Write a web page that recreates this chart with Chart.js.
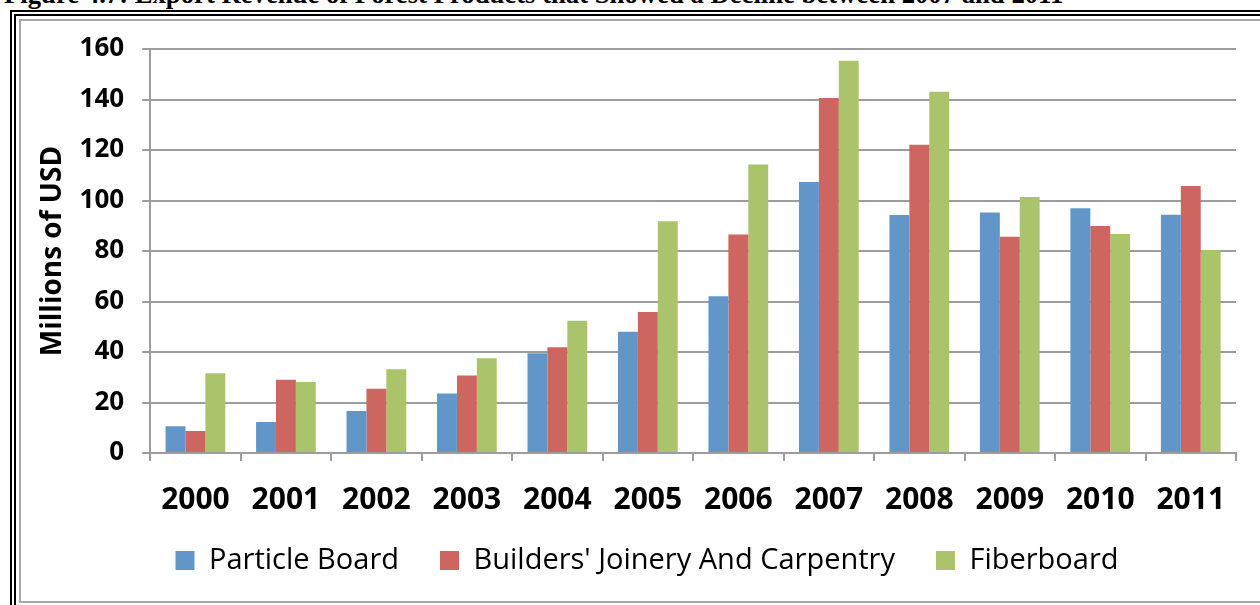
<!DOCTYPE html>
<html lang="en">
<head>
    <meta charset="UTF-8">
    <title>Export Revenue of Forest Products</title>
    <style>
        body {
            margin: 0;
            width: 1260px;
            height: 605px;
            overflow: hidden;
            background: #fff;
        }
        #caption {
            position: absolute;
            left: 4px;
            top: -18px;
            font: bold 26.7px 'Liberation Serif', 'Times New Roman', serif;
            line-height: 24px;
            white-space: nowrap;
            color: #000;
        }
        #frame {
            position: absolute;
            left: 10px;
            top: 10px;
            width: 1400px;
            height: 700px;
            border-top: 6px double #000;
            border-left: 6px double #000;
        }
        #box {
            position: absolute;
            left: 19px;
            top: 19px;
            width: 1400px;
            height: 580px;
            border: 2px solid #a8a8a8;
        }
        canvas {
            display: block;
        }
    </style>
</head>
<body>
    <div id="caption">Figure 4.7: Export Revenue of Forest Products that Showed a Decline between 2007 and 2011</div>
    <div id="frame"></div>
    <div id="box">
        <canvas id="chart" width="1250" height="580"></canvas>
    </div>

    <script src="https://cdn.jsdelivr.net/npm/chart.js"></script>
    <script>
        // values (millions of USD)
        const years = ['2000', '2001', '2002', '2003', '2004', '2005', '2006', '2007', '2008', '2009', '2010', '2011'];
        const particleBoard = [10.6, 12.3, 16.6, 23.6, 39.5, 48.0, 62.1, 107.3, 94.3, 95.2, 96.9, 94.4];
        const joinery = [8.7, 29.0, 25.4, 30.7, 41.9, 55.8, 86.5, 140.6, 122.1, 85.6, 89.9, 105.7];
        const fiberboard = [31.6, 28.1, 33.2, 37.5, 52.4, 91.8, 114.3, 155.3, 143.1, 101.4, 86.7, 80.4];
        const yTicks = [0, 20, 40, 60, 80, 100, 120, 140, 160];

        const gridGray = '#9d9d9d';
        const boldFont = { family: "'Open Sans', sans-serif", weight: 'bold' };

        // move the legend row to where it sits in the original (closer to the axis labels)
        const legendShift = {
            id: 'legendShift',
            afterLayout(chart) {
                const lg = chart.legend;
                if (!lg) return;
                const dx = 16, dy = -34;
                lg.left += dx; lg.right += dx;
                lg.top += dy; lg.bottom += dy;
            }
        };

        const ctx = document.getElementById('chart').getContext('2d');

        new Chart(ctx, {
            type: 'bar',
            data: {
                labels: years,
                datasets: [
                    { label: 'Particle Board', data: particleBoard, backgroundColor: '#6296c9' },
                    { label: "Builders' Joinery And Carpentry", data: joinery, backgroundColor: '#cd6660' },
                    { label: 'Fiberboard', data: fiberboard, backgroundColor: '#abc46c' }
                ]
            },
            plugins: [legendShift],
            options: {
                responsive: false,
                animation: false,
                categoryPercentage: 0.66,
                barPercentage: 1.0,
                layout: {
                    padding: { left: 5, right: 35, top: 28, bottom: -18 }
                },
                plugins: {
                    legend: {
                        position: 'bottom',
                        labels: {
                            boxWidth: 19,
                            boxHeight: 19,
                            padding: 41,
                            color: '#000',
                            font: { family: "'Open Sans', sans-serif", size: 29 }
                        }
                    },
                    tooltip: { enabled: false }
                },
                scales: {
                    x: {
                        grid: {
                            offset: true,
                            drawOnChartArea: false,
                            drawTicks: true,
                            tickLength: 8,
                            color: gridGray,
                            lineWidth: 2
                        },
                        border: { color: gridGray, width: 2 },
                        ticks: {
                            color: '#000',
                            padding: 21,
                            maxRotation: 0,
                            font: { ...boldFont, size: 30 }
                        }
                    },
                    y: {
                        min: 0,
                        max: 160,
                        afterBuildTicks: (axis) => {
                            axis.ticks = yTicks.map(v => ({ value: v }));
                        },
                        // let the layout padding alone decide where the top gridline sits
                        afterFit: (axis) => {
                            axis.paddingTop = 0;
                            axis.paddingBottom = 0;
                        },
                        grid: {
                            color: gridGray,
                            lineWidth: 2,
                            tickLength: 8
                        },
                        border: { color: gridGray, width: 2 },
                        ticks: {
                            color: '#000',
                            padding: 18,
                            font: { ...boldFont, size: 26 }
                        },
                        title: {
                            display: true,
                            text: 'Millions of USD',
                            color: '#000',
                            padding: { top: 10, bottom: -8 },
                            font: { ...boldFont, size: 28 }
                        }
                    }
                }
            }
        });
    </script>
</body>
</html>
